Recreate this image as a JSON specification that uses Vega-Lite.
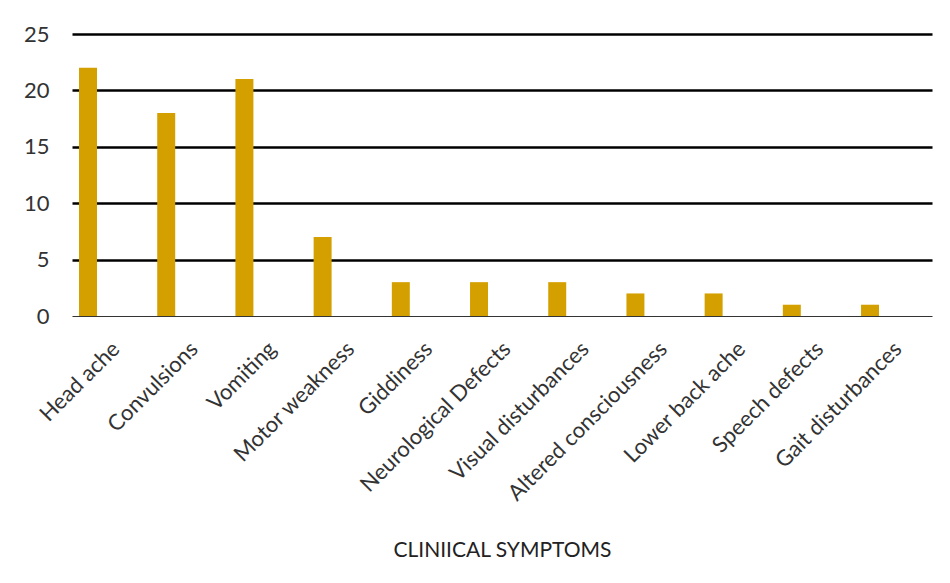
{
  "$schema": "https://vega.github.io/schema/vega-lite/v6.json",
  "autosize": "none",
  "width": 860,
  "height": 282,
  "padding": {"left": 72, "top": 34, "right": 18, "bottom": 267},
  "background": "white",
  "data": {
    "values": [
      {"symptom": "Head ache", "count": 22},
      {"symptom": "Convulsions", "count": 18},
      {"symptom": "Vomiting", "count": 21},
      {"symptom": "Motor weakness", "count": 7},
      {"symptom": "Giddiness", "count": 3},
      {"symptom": "Neurological Defects", "count": 3},
      {"symptom": "Visual disturbances", "count": 3},
      {"symptom": "Altered consciousness", "count": 2},
      {"symptom": "Lower back ache", "count": 2},
      {"symptom": "Speech defects", "count": 1},
      {"symptom": "Gait disturbances", "count": 1}
    ]
  },
  "mark": {"type": "bar", "color": "#D4A000"},
  "encoding": {
    "x": {
      "field": "symptom",
      "type": "nominal",
      "sort": null,
      "scale": {"paddingInner": 0.77, "paddingOuter": 0.3836, "align": 0.117},
      "axis": {
        "title": "CLINIICAL SYMPTOMS",
        "titleFont": "Lato",
        "titleFontSize": 21,
        "titleFontWeight": "normal",
        "titleColor": "#222222",
        "titleBaseline": "middle",
        "titleY": 234,
        "titleX": 430,
        "labelAngle": -45,
        "labelFont": "Lato",
        "labelFontSize": 22,
        "labelColor": "#333333",
        "labelOffset": 21,
        "labelPadding": 22,
        "labelLimit": 400,
        "labelOverlap": false,
        "ticks": false,
        "domainColor": "#333333",
        "domainWidth": 1.2
      }
    },
    "y": {
      "field": "count",
      "type": "quantitative",
      "scale": {"domain": [0, 25]},
      "axis": {
        "title": null,
        "values": [0, 5, 10, 15, 20, 25],
        "domain": false,
        "ticks": false,
        "labelFont": "Lato",
        "labelFontSize": 22,
        "labelColor": "#333333",
        "labelPadding": 23,
        "gridColor": "#000000",
        "gridOpacity": 1,
        "gridWidth": {"condition": {"test": "datum.value === 0", "value": 0}, "value": 2.5}
      }
    }
  },
  "config": {"view": {"stroke": null}}
}
